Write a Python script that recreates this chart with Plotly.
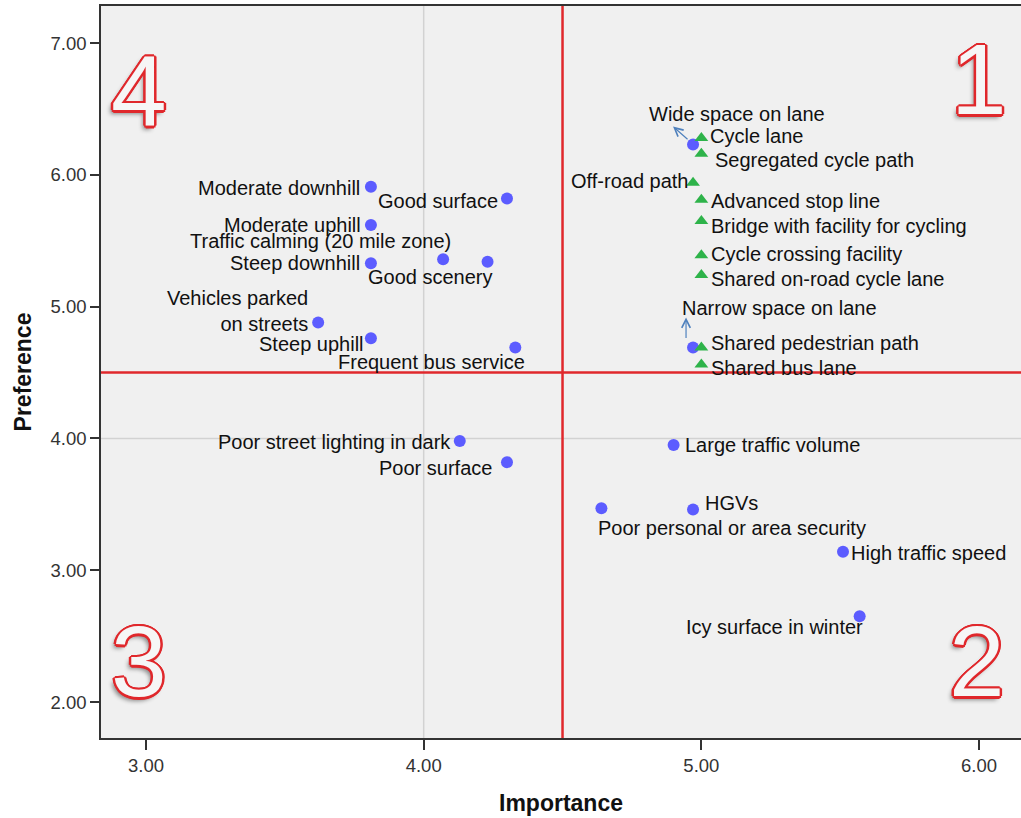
import plotly.graph_objects as go

# ---------------- data ----------------
blue_labels = [
    "Moderate downhill", "Good surface", "Moderate uphill",
    "Traffic calming (20 mile zone)", "Good scenery", "Steep downhill",
    "Vehicles parked<br>on streets", "Steep uphill", "Frequent bus service",
    "Poor street lighting in dark", "Poor surface", "Large traffic volume",
    "Poor personal or area security", "HGVs", "High traffic speed",
    "Icy surface in winter", "Wide space on lane", "Narrow space on lane",
]
blue_x = [3.81, 4.30, 3.81, 4.07, 4.23, 3.81, 3.62, 3.81, 4.33,
          4.13, 4.30, 4.90, 4.64, 4.97, 5.51, 5.57, 4.97, 4.97]
blue_y = [5.91, 5.82, 5.62, 5.36, 5.34, 5.33, 4.88, 4.76, 4.69,
          3.98, 3.82, 3.95, 3.47, 3.46, 3.14, 2.65, 6.23, 4.69]

green_labels = [
    "Cycle lane", "Segregated cycle path", "Off-road path", "Advanced stop line",
    "Bridge with facility for cycling", "Cycle crossing facility",
    "Shared on-road cycle lane", "Shared pedestrian path", "Shared bus lane",
]
green_x = [5.00, 5.00, 4.97, 5.00, 5.00, 5.00, 5.00, 5.00, 5.00]
green_y = [6.28, 6.16, 5.94, 5.81, 5.65, 5.39, 5.24, 4.69, 4.56]

x_ticks = [3.0, 4.0, 5.0, 6.0]
y_ticks = [2.0, 3.0, 4.0, 5.0, 6.0, 7.0]
split_x = 4.5
split_y = 4.5
quadrants = ["1", "2", "3", "4"]

# ---------------- label placement (style only) ----------------
# (xanchor, xshift px, yshift px, align)
blue_place = [
    ("right", -9, -1, "right"), ("right", -7, -2, "right"), ("right", -8, 0, "right"),
    ("right", 10, 18, "right"), ("right", 7, -15, "right"), ("right", -9, 0, "right"),
    ("right", -8, 11, "right"), ("right", -5, -6, "right"), ("right", 12, -15, "right"),
    ("right", -7, -1, "right"), ("right", -13, -6, "right"), ("left", 9, 0, "left"),
    ("left", -5, -20, "left"), ("left", 10, 7, "left"), ("left", 6, -1, "left"),
    ("right", 5, -11, "right"), ("left", -46, 31, "left"), ("left", -13, 39, "left"),
]
green_place = [
    ("left", 7, 2, "left"), ("left", 12, -6, "left"), ("right", -3, 2, "right"),
    ("left", 8, -1, "left"), ("left", 8, -5, "left"), ("left", 8, 1, "left"),
    ("left", 8, -4, "left"), ("left", 8, 4, "left"), ("left", 8, -3, "left"),
]

# plot area geometry (pixels)
W, H = 1021, 818
L, R, T, B = 101, 0, 6, 80
x_range = [2.838, 6.151]
y_range = [1.727, 7.281]

fig = go.Figure()

fig.add_trace(go.Scatter(
    x=blue_x, y=blue_y, mode="markers",
    marker=dict(symbol="circle", size=12, color="#5c5cff"),
    hoverinfo="skip", showlegend=False,
))
fig.add_trace(go.Scatter(
    x=green_x, y=green_y, mode="markers",
    marker=dict(symbol="triangle-up", size=12, color="#2eb34a"),
    hoverinfo="skip", showlegend=False,
))

label_font = dict(family="Liberation Sans, Arial, sans-serif", size=20, color="#111111")
annotations = []
for lab, x, y, (xa, dx, dy, al) in zip(blue_labels + green_labels,
                                       blue_x + green_x, blue_y + green_y,
                                       blue_place + green_place):
    annotations.append(dict(
        x=x, y=y, xref="x", yref="y", text=lab, showarrow=False,
        xanchor=xa, yanchor="middle", xshift=dx, yshift=dy, align=al,
        font=label_font,
    ))

# small blue arrows pointing to the two floating labels
i_wide = blue_labels.index("Wide space on lane")
i_narrow = blue_labels.index("Narrow space on lane")
for i, sx, sy, ax, ay in [(i_wide, -20, 18, 16, 14), (i_narrow, -7, 30, 0, 22)]:
    annotations.append(dict(
        x=blue_x[i], y=blue_y[i], xref="x", yref="y", text="",
        showarrow=True, arrowhead=5, arrowsize=1.4, arrowwidth=1.2,
        arrowcolor="#4f81bd", ax=ax, ay=ay, xshift=sx, yshift=sy,
    ))

# quadrant numerals (outlined red)
pw, ph = W - L - R, H - T - B
quad_pos = {"1": (979, 79), "2": (977, 661), "3": (139, 661), "4": (139, 91)}
red = "#e0282c"
outline = ", ".join(f"{a}px {b}px 0 {red}" for a, b in
                    [(-2, 0), (2, 0), (0, -2), (0, 2), (-1.5, -1.5), (1.5, 1.5),
                     (-1.5, 1.5), (1.5, -1.5), (-2.5, 0), (2.5, 0), (0, 2.5), (0, -2.5)])
shadow = outline + ", -3px 4px 4px #8a8a8a"
for q in quadrants:
    px, py = quad_pos[q]
    annotations.append(dict(
        x=(px - L) / pw, y=(H - B - py) / ph, xref="paper", yref="paper",
        text=q, showarrow=False, xanchor="center", yanchor="middle", yshift=0,
        font=dict(family="Liberation Sans, Arial, sans-serif", size=100,
                  color="#f6f6f6", shadow=shadow),
    ))

shapes = [
    dict(type="line", xref="x", yref="paper", x0=4.0, x1=4.0, y0=0, y1=1,
         line=dict(color="#d2d2d2", width=1.5), layer="below"),
    dict(type="line", xref="paper", yref="y", x0=0, x1=1, y0=4.0, y1=4.0,
         line=dict(color="#d2d2d2", width=1.5), layer="below"),
    dict(type="line", xref="x", yref="paper", x0=split_x, x1=split_x, y0=0, y1=1,
         line=dict(color=red, width=2.5)),
    dict(type="line", xref="paper", yref="y", x0=0, x1=1, y0=split_y, y1=split_y,
         line=dict(color=red, width=2.5)),
]

tick_font = dict(family="Liberation Sans, Arial, sans-serif", size=18.5, color="#333333")
title_font = dict(family="Liberation Sans, Arial, sans-serif", size=23, color="#111111")

fig.update_layout(
    width=W, height=H,
    margin=dict(l=L, r=R, t=T, b=B, pad=0),
    paper_bgcolor="white", plot_bgcolor="#f0f0f0",
    annotations=annotations, shapes=shapes,
    showlegend=False,
    xaxis=dict(
        range=x_range, tickvals=x_ticks, ticktext=[f"{v:.2f}" for v in x_ticks],
        showgrid=False, zeroline=False, showline=True, mirror=True,
        linecolor="#333333", linewidth=1.5, ticks="outside", ticklen=10,
        tickwidth=1.5, tickcolor="#333333", tickfont=tick_font,
        title=dict(text="<b>Importance</b>", font=title_font, standoff=20),
    ),
    yaxis=dict(
        range=y_range, tickvals=y_ticks, ticktext=[f"{v:.2f}" for v in y_ticks],
        showgrid=False, zeroline=False, showline=True, mirror=False,
        linecolor="#333333", linewidth=1.5, ticks="outside", ticklen=9,
        tickwidth=1.5, tickcolor="#333333", tickfont=tick_font,
        title=dict(text="<b>Preference</b>", font=title_font, standoff=12),
    ),
)

fig.write_html(
    "out.html",
    config={"displayModeBar": False},
    post_script="document.body.style.margin='0';document.body.style.overflow='hidden';",
)
